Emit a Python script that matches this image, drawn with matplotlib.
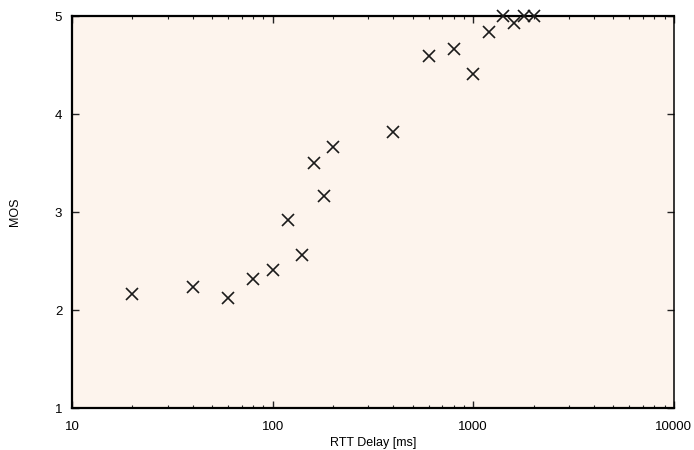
import matplotlib
matplotlib.use("Agg")
import matplotlib.pyplot as plt
from matplotlib.ticker import LogLocator, FixedLocator

# RTT delay (ms) and mean opinion score
rtt_ms = [20, 40, 60, 80, 100, 120, 140, 160, 180, 200,
          400, 600, 800, 1000, 1200, 1400, 1600, 1800, 2000]
mos = [2.16, 2.23, 2.12, 2.32, 2.41, 2.92, 2.56, 3.50, 3.16, 3.66,
       3.82, 4.59, 4.66, 4.41, 4.84, 5.00, 4.93, 5.00, 5.00]

x_ticks = [10, 100, 1000, 10000]
x_tick_labels = ["10", "100", "1000", "10000"]
y_ticks = [1, 2, 3, 4, 5]

plt.rcParams["font.family"] = ["Liberation Sans", "DejaVu Sans"]

fig = plt.figure(figsize=(6.94, 4.5), dpi=100)
ax = fig.add_axes([0.1037, 0.0933, 0.8673, 0.8711])
ax.set_facecolor("#fdf4ed")

ax.plot(rtt_ms, mos, linestyle="none", marker="x", color="#1a1a1a",
        markersize=8, markeredgewidth=1.2, clip_on=False, zorder=3)

ax.set_xscale("log")
ax.set_xlim(10, 10000)
ax.set_ylim(1, 5)
ax.set_xticks(x_ticks)
ax.set_xticklabels(x_tick_labels)
ax.xaxis.set_minor_locator(LogLocator(base=10, subs=range(2, 10)))
ax.yaxis.set_major_locator(FixedLocator(y_ticks))

ax.tick_params(which="both", direction="in", top=True, right=True,
               labelsize=9.5, color="#222222")
ax.tick_params(axis="x", pad=9)
ax.tick_params(axis="y", pad=7)
ax.tick_params(which="major", length=5, width=1)
ax.tick_params(which="minor", length=2.5, width=0.8)

for side in ["left", "bottom", "top"]:
    ax.spines[side].set_linewidth(1.6)
ax.spines["right"].set_linewidth(1.1)

ax.set_xlabel("RTT Delay [ms]", fontsize=9, labelpad=3.5)
ax.set_ylabel("MOS", fontsize=9, labelpad=24)

fig.savefig("out.png", dpi=100)
